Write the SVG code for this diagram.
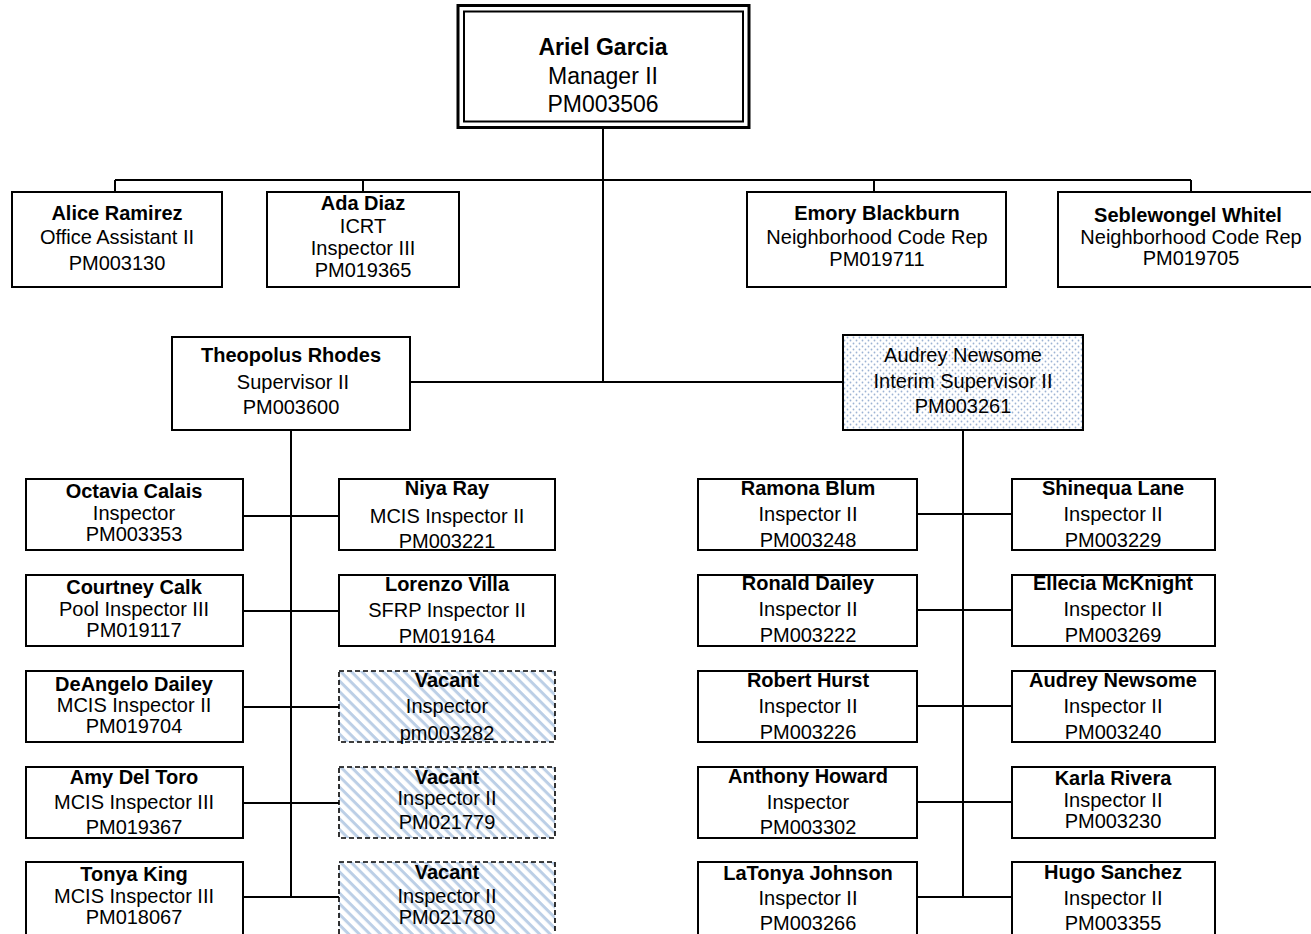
<svg xmlns="http://www.w3.org/2000/svg" width="1311" height="934" viewBox="0 0 1311 934">
<defs>
<pattern id="dots" width="6" height="6" patternUnits="userSpaceOnUse">
<rect width="6" height="6" fill="#ffffff"/>
<circle cx="1.5" cy="1.5" r="0.9" fill="#9db3d4"/>
<circle cx="4.5" cy="4.5" r="0.9" fill="#9db3d4"/>
</pattern>
<pattern id="hatch" width="7.5" height="7.5" patternUnits="userSpaceOnUse" patternTransform="rotate(45)">
<rect width="7.5" height="7.5" fill="#ffffff"/>
<rect width="7.5" height="3" fill="#bccfe6"/>
</pattern>
<style>
.b{fill:#fff;stroke:#000;stroke-width:2}
.v{fill:url(#hatch);stroke:#000;stroke-width:1.6;stroke-dasharray:5 3}
.d{fill:url(#dots);stroke:#000;stroke-width:2}
.c{fill:none;stroke:#000;stroke-width:2}
text{font-family:"Liberation Sans",Arial,sans-serif;font-size:20px;fill:#000;text-anchor:middle}
.n{font-weight:bold}
.top{font-size:23px}
</style>
</defs>
<g id="connectors">
<path class="c" d="M603 128V382M115 180H1191M115 180V192M363 180V192M874 180V192M1191 180V192M410 382H843"/>
<path class="c" d="M291 430V897M243 516H339M243 611H339M243 707H339M243 803H339M243 897H339"/>
<path class="c" d="M963 430V897M917 514H1012M917 610H1012M917 706H1012M917 802H1012M917 897H1012"/>
</g>
<g id="ariel">
<rect x="458" y="5.5" width="291" height="122" fill="#fff" stroke="#000" stroke-width="3"/>
<rect x="464" y="11.5" width="279" height="110" fill="none" stroke="#000" stroke-width="2"/>
<text class="top n" x="603" y="55">Ariel Garcia</text>
<text class="top" x="603" y="84">Manager II</text>
<text class="top" x="603" y="112">PM003506</text>
</g>
<g id="alice">
<rect class="b" x="12" y="192" width="210" height="95"/>
<text class="n" x="117" y="220">Alice Ramirez</text>
<text x="117" y="244">Office Assistant II</text>
<text x="117" y="270">PM003130</text>
</g>
<g id="ada">
<rect class="b" x="267" y="192" width="192" height="95"/>
<text class="n" x="363" y="210">Ada Diaz</text>
<text x="363" y="233">ICRT</text>
<text x="363" y="255">Inspector III</text>
<text x="363" y="277">PM019365</text>
</g>
<g id="emory">
<rect class="b" x="747" y="192" width="259" height="95"/>
<text class="n" x="877" y="220">Emory Blackburn</text>
<text x="877" y="244">Neighborhood Code Rep</text>
<text x="877" y="266">PM019711</text>
</g>
<g id="seblewongel">
<rect class="b" x="1058" y="192" width="262" height="95"/>
<text class="n" x="1188" y="222">Seblewongel Whitel</text>
<text x="1191" y="244">Neighborhood Code Rep</text>
<text x="1191" y="265">PM019705</text>
</g>
<g id="theopolus">
<rect class="b" x="172" y="337" width="238" height="93"/>
<text class="n" x="291" y="362">Theopolus Rhodes</text>
<text x="293" y="389">Supervisor II</text>
<text x="291" y="414">PM003600</text>
</g>
<g id="audrey-interim">
<rect class="d" x="843" y="335" width="240" height="95"/>
<text x="963" y="362">Audrey Newsome</text>
<text x="963" y="388">Interim Supervisor II</text>
<text x="963" y="413">PM003261</text>
</g>
<g id="octavia">
<rect class="b" x="26" y="479" width="217" height="71"/>
<text class="n" x="134" y="498">Octavia Calais</text>
<text x="134" y="520">Inspector</text>
<text x="134" y="541">PM003353</text>
</g>
<g id="courtney">
<rect class="b" x="26" y="575" width="217" height="71"/>
<text class="n" x="134" y="594">Courtney Calk</text>
<text x="134" y="616">Pool Inspector III</text>
<text x="134" y="637">PM019117</text>
</g>
<g id="deangelo">
<rect class="b" x="26" y="671" width="217" height="71"/>
<text class="n" x="134" y="691">DeAngelo Dailey</text>
<text x="134" y="712">MCIS Inspector II</text>
<text x="134" y="733">PM019704</text>
</g>
<g id="amy">
<rect class="b" x="26" y="767" width="217" height="71"/>
<text class="n" x="134" y="784">Amy Del Toro</text>
<text x="134" y="809">MCIS Inspector III</text>
<text x="134" y="834">PM019367</text>
</g>
<g id="tonya">
<rect class="b" x="26" y="862" width="217" height="80"/>
<text class="n" x="134" y="881">Tonya King</text>
<text x="134" y="903">MCIS Inspector III</text>
<text x="134" y="924">PM018067</text>
</g>
<g id="niya">
<rect class="b" x="339" y="479" width="216" height="71"/>
<text class="n" x="447" y="495">Niya Ray</text>
<text x="447" y="523">MCIS Inspector II</text>
<text x="447" y="548">PM003221</text>
</g>
<g id="lorenzo">
<rect class="b" x="339" y="575" width="216" height="71"/>
<text class="n" x="447" y="591">Lorenzo Villa</text>
<text x="447" y="617">SFRP Inspector II</text>
<text x="447" y="643">PM019164</text>
</g>
<g id="vacant1">
<rect class="v" x="339" y="671" width="216" height="71"/>
<text class="n" x="447" y="687">Vacant</text>
<text x="447" y="713">Inspector</text>
<text x="447" y="740">pm003282</text>
</g>
<g id="vacant2">
<rect class="v" x="339" y="767" width="216" height="71"/>
<text class="n" x="447" y="784">Vacant</text>
<text x="447" y="805">Inspector II</text>
<text x="447" y="829">PM021779</text>
</g>
<g id="vacant3">
<rect class="v" x="339" y="862" width="216" height="80"/>
<text class="n" x="447" y="879">Vacant</text>
<text x="447" y="903">Inspector II</text>
<text x="447" y="924">PM021780</text>
</g>
<g id="ramona">
<rect class="b" x="698" y="479" width="219" height="71"/>
<text class="n" x="808" y="495">Ramona Blum</text>
<text x="808" y="521">Inspector II</text>
<text x="808" y="547">PM003248</text>
</g>
<g id="ronald">
<rect class="b" x="698" y="575" width="219" height="71"/>
<text class="n" x="808" y="590">Ronald Dailey</text>
<text x="808" y="616">Inspector II</text>
<text x="808" y="642">PM003222</text>
</g>
<g id="robert">
<rect class="b" x="698" y="671" width="219" height="71"/>
<text class="n" x="808" y="687">Robert Hurst</text>
<text x="808" y="713">Inspector II</text>
<text x="808" y="739">PM003226</text>
</g>
<g id="anthony">
<rect class="b" x="698" y="767" width="219" height="71"/>
<text class="n" x="808" y="783">Anthony Howard</text>
<text x="808" y="809">Inspector</text>
<text x="808" y="834">PM003302</text>
</g>
<g id="latonya">
<rect class="b" x="698" y="862" width="219" height="80"/>
<text class="n" x="808" y="880">LaTonya Johnson</text>
<text x="808" y="905">Inspector II</text>
<text x="808" y="930">PM003266</text>
</g>
<g id="shinequa">
<rect class="b" x="1012" y="479" width="203" height="71"/>
<text class="n" x="1113" y="495">Shinequa Lane</text>
<text x="1113" y="521">Inspector II</text>
<text x="1113" y="547">PM003229</text>
</g>
<g id="ellecia">
<rect class="b" x="1012" y="575" width="203" height="71"/>
<text class="n" x="1113" y="590">Ellecia McKnight</text>
<text x="1113" y="616">Inspector II</text>
<text x="1113" y="642">PM003269</text>
</g>
<g id="audrey">
<rect class="b" x="1012" y="671" width="203" height="71"/>
<text class="n" x="1113" y="687">Audrey Newsome</text>
<text x="1113" y="713">Inspector II</text>
<text x="1113" y="739">PM003240</text>
</g>
<g id="karla">
<rect class="b" x="1012" y="767" width="203" height="71"/>
<text class="n" x="1113" y="785">Karla Rivera</text>
<text x="1113" y="807">Inspector II</text>
<text x="1113" y="828">PM003230</text>
</g>
<g id="hugo">
<rect class="b" x="1012" y="862" width="203" height="80"/>
<text class="n" x="1113" y="879">Hugo Sanchez</text>
<text x="1113" y="905">Inspector II</text>
<text x="1113" y="930">PM003355</text>
</g>
</svg>
